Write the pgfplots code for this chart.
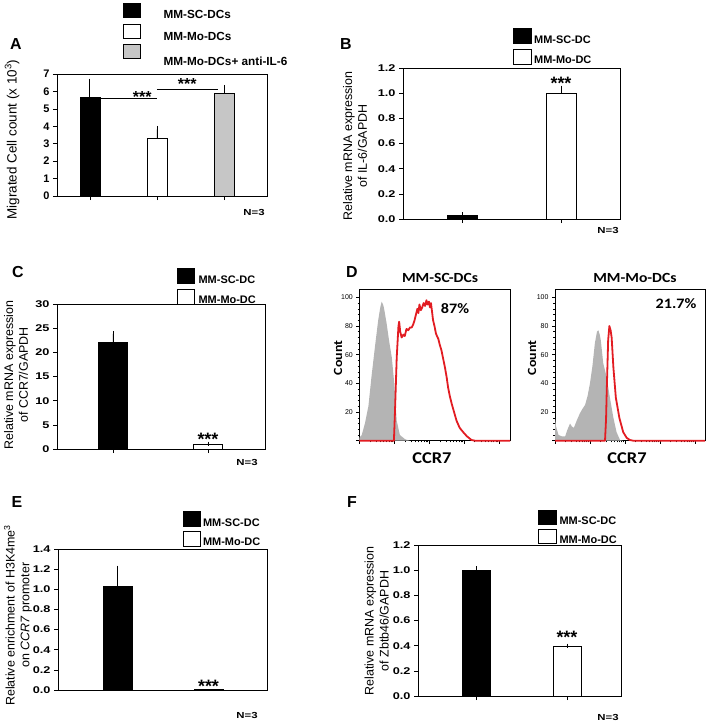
\documentclass[border=0pt]{standalone}
\usepackage{pgfplots}
\pgfplotsset{compat=1.18}
\usepackage{fontspec}
\setmainfont{Liberation Sans}
\newfontfamily\widesans{Liberation Sans}[FakeStretch=1.3]
\newfontfamily\carlito{Carlito}[FakeStretch=1.12]
\definecolor{facsred}{RGB}{226,28,34}
\definecolor{facsgray}{RGB}{180,180,180}

\newcommand{\lab}{\fontsize{12.5}{15}\selectfont}
\newcommand{\tck}{\widesans\bfseries\fontsize{9.8}{11}\selectfont}
\newcommand{\tcka}{\bfseries\fontsize{11}{12}\selectfont}
\newcommand{\leg}{\bfseries\fontsize{11}{13}\selectfont}
\newcommand{\panel}{\bfseries\fontsize{16}{18}\selectfont}
\newcommand{\stars}{\bfseries\fontsize{18}{20}\selectfont}
\newcommand{\nfont}{\widesans\bfseries\fontsize{8.8}{10}\selectfont}

\pgfplotsset{
  barpanel/.style={
    scale only axis, clip=false,
    ybar, ymin=0,
    axis line style={line width=0.8bp},
    tick style={black, line width=0.6bp},
    major tick length=4bp,
    tick align=outside, tick pos=left,
    xticklabels={},
    /pgf/number format/assume math mode=true,
    tick label style={font=\tck},
    ylabel style={font=\lab, align=center, anchor=center},
    legend cell align=left,
    legend style={draw=none, fill=none, inner xsep=0pt, inner ysep=0pt,
      nodes={inner sep=0pt, text depth=0pt}, font=\leg,
      row sep=5bp, column sep=2.5bp, anchor=north west},
  },
  onedec/.style={y tick label style={/pgf/number format/.cd, fixed, fixed zerofill, precision=1}},
  errs/.style={error bars/.cd, y dir=plus, y explicit,
    error bar style={black, line width=0.8bp},
    error mark options={black, line width=0.8bp, mark size=#1}},
  facs/.style={
    scale only axis, clip=false,
    xmin=0, ymin=0, ymax=105.6,
    axis line style={line width=0.6bp},
    tick style={black, line width=0.5bp},
    major tick length=3bp, minor tick length=1.6bp,
    tick align=outside, tick pos=left,
    xtick={0,1,2,3,4}, xticklabels={},
    minor xtick={0.301,0.477,0.602,0.699,0.778,0.845,0.903,0.954,
      1.301,1.477,1.602,1.699,1.778,1.845,1.903,1.954,
      2.301,2.477,2.602,2.699,2.778,2.845,2.903,2.954,
      3.301,3.477,3.602,3.699,3.778,3.845,3.903,3.954},
    ytick={0,20,40,60,80,100}, yticklabels={,20,40,60,80,100},
    minor y tick num=4,
    /pgf/number format/assume math mode=true,
    tick label style={font=\fontsize{7}{8}\selectfont},
    ylabel style={font=\carlito\bfseries\fontsize{12.5}{14}\selectfont, anchor=center},
    xlabel style={font=\carlito\bfseries\fontsize{16.5}{18}\selectfont, anchor=center},
    title style={font=\carlito\bfseries\fontsize{14}{16}\selectfont, anchor=center},
  },
}

\begin{document}
\begin{tikzpicture}
\path[use as bounding box] (0,0) rectangle (709bp,-724bp);

% ---------------- A
\begin{axis}[barpanel, at={(57bp,-196bp)}, anchor=south west,
  width=210bp, height=122bp, xmin=0.51, xmax=3.64, ymax=7,
  xtick={1,2,3}, ytick={0,1,2,3,4,5,6,7}, bar width=20bp,
  tick label style={font=\tcka},
  ylabel={Migrated Cell count (x 10\textsuperscript{3})},
  ylabel style={at={(axis description cs:-0.214,0.463)}, font=\fontsize{13.5}{15}\selectfont},
  legend style={at={(0.3143,1.582)}, row sep=6bp, column sep=23bp,
    font=\bfseries\fontsize{11.8}{13}\selectfont},
  legend image code/.code={\draw[#1] (0bp,-3.5bp) rectangle (17bp,10.5bp);}]
\addplot[fill=black, draw=black, bar shift=0pt, errs=4bp] coordinates {(1,5.65) +- (0,0.85)};
\addplot[fill=white, draw=black, bar shift=0pt, errs=3.5bp] coordinates {(2,3.3) +- (0,0.53)};
\addplot[fill=gray!45, draw=black, bar shift=0pt, errs=3bp] coordinates {(3,5.9) +- (0,0.3)};
\legend{MM-SC-DCs, \raisebox{-3bp}{MM-Mo-DCs}, \raisebox{-10bp}{MM-Mo-DCs+ anti-IL-6}}
\draw[line width=0.8bp] (axis cs:1.04,5.6) -- (axis cs:2.0,5.6);
\draw[line width=0.8bp] (axis cs:2.0,6.12) -- (axis cs:2.91,6.12);
\node[anchor=base, inner sep=0pt, font=\bfseries\fontsize{16}{18}\selectfont] at (axis cs:1.78,5.39) {***};
\node[anchor=base, inner sep=0pt, font=\bfseries\fontsize{16}{18}\selectfont] at (axis cs:2.45,6.13) {***};
\end{axis}
\node[font=\panel] at (16bp,-44bp) {A};
\node[font=\nfont] at (254bp,-212bp) {N=3};

% ---------------- B
\begin{axis}[barpanel, onedec, at={(403bp,-219bp)}, anchor=south west,
  width=217bp, height=151bp, xmin=0.404, xmax=2.596, ymax=1.2,
  xtick={1,2}, ytick={0,0.2,0.4,0.6,0.8,1.0,1.2}, bar width=30bp,
  ylabel={Relative mRNA expression\\of IL-6/GAPDH},
  ylabel style={at={(axis description cs:-0.221,0.483)}},
  legend style={at={(0.507,1.265)}},
  legend image code/.code={\draw[#1] (0bp,-4bp) rectangle (18bp,11bp);}]
\addplot[fill=black, draw=black, bar shift=0pt, errs=2.5bp] coordinates {(1,0.03) +- (0,0.005)};
\addplot[fill=white, draw=black, bar shift=0pt, errs=2.5bp] coordinates {(2,1.0) +- (0,0.04)};
\legend{MM-SC-DC, MM-Mo-DC}
\node[anchor=base, inner sep=0pt, font=\stars] at (axis cs:2,1.031) {***};
\end{axis}
\node[font=\panel] at (346bp,-44bp) {B};
\node[font=\nfont] at (608bp,-230bp) {N=3};

% ---------------- C
\begin{axis}[barpanel, at={(57bp,-449bp)}, anchor=south west,
  width=208bp, height=145bp, xmin=0.411, xmax=2.6, ymax=30,
  xtick={1,2}, ytick={0,5,10,15,20,25,30}, bar width=29bp,
  ylabel={Relative mRNA expression\\of CCR7/GAPDH},
  ylabel style={at={(axis description cs:-0.197,0.51)}},
  legend style={at={(0.577,1.248)}, column sep=4bp},
  legend image code/.code={\draw[#1] (0bp,-4bp) rectangle (17bp,11bp);}]
\addplot[fill=black, draw=black, bar shift=0pt, errs=2.5bp] coordinates {(1,22.1) +- (0,1.7)};
\addplot[fill=white, draw=black, bar shift=0pt, errs=2bp] coordinates {(2,1.0) +- (0,0.1)};
\legend{MM-SC-DC, MM-Mo-DC}
\node[anchor=base, inner sep=0pt, font=\stars] at (axis cs:2,0.77) {***};
\end{axis}
\node[font=\panel] at (18bp,-272bp) {C};
\node[font=\nfont] at (247bp,-462bp) {N=3};

% ---------------- D (flow cytometry histograms, x in log decades)
\begin{axis}[facs, at={(359.3bp,-440.7bp)}, anchor=south west,
  width=150.7bp, height=151.4bp, xmax=4.31,
  title={MM-SC-DCs}, title style={at={(axis description cs:0.536,1.038)}},
  xlabel={CCR7}, xlabel style={at={(axis description cs:0.482,-0.114)}},
  ylabel={Count}, ylabel style={at={(axis description cs:-0.141,0.546)}}]
\addplot[fill=facsgray, draw=none] coordinates {
 (0,2) (0.07,4) (0.16,12) (0.26,24) (0.35,45) (0.45,66) (0.54,84) (0.60,93)
 (0.64,97) (0.68,95) (0.71,92) (0.78,82) (0.85,70) (0.93,58) (1.0,40)
 (1.04,25) (1.07,14) (1.16,4) (1.31,1) (1.45,0)} \closedcycle;
\addplot[facsred, line width=1.8bp, line join=round] coordinates {
 (0,0) (0.99,0) (1.02,20) (1.07,58) (1.12,80) (1.14,83) (1.17,76) (1.21,72)
 (1.26,74) (1.30,73) (1.35,78) (1.40,77) (1.45,79) (1.50,79) (1.54,81)
 (1.58,84) (1.62,88) (1.66,92) (1.69,89) (1.72,95) (1.76,91) (1.80,93)
 (1.84,96) (1.88,94) (1.92,98) (1.95,95) (1.99,97) (2.02,93) (2.05,96)
 (2.08,90) (2.11,84) (2.15,80) (2.19,75) (2.22,73) (2.26,71) (2.30,67)
 (2.35,63) (2.40,57) (2.45,51) (2.50,44) (2.54,37) (2.59,31) (2.64,26)
 (2.71,20) (2.78,14) (2.87,9) (2.97,6) (3.08,3) (3.21,0.5) (3.31,0) (4.31,0)};
\node[font=\carlito\bfseries\fontsize{14.5}{16}\selectfont] at (axis description cs:0.635,0.876) {87\%};
\end{axis}
\begin{axis}[facs, at={(555bp,-440.7bp)}, anchor=south west,
  width=150bp, height=151.4bp, xmax=4.29,
  title={MM-Mo-DCs}, title style={at={(axis description cs:0.533,1.038)}},
  xlabel={CCR7}, xlabel style={at={(axis description cs:0.48,-0.114)}},
  ylabel={Count}, ylabel style={at={(axis description cs:-0.153,0.546)}}]
\addplot[fill=facsgray, draw=none] coordinates {
 (0,16) (0.03,10) (0.1,4) (0.2,3) (0.29,3) (0.36,8) (0.43,12) (0.48,10)
 (0.54,9) (0.62,14) (0.71,19) (0.78,22) (0.86,25) (0.93,31) (1.0,40)
 (1.07,52) (1.14,68) (1.2,76) (1.24,77) (1.28,74) (1.31,70) (1.38,54)
 (1.48,44) (1.57,30) (1.67,16) (1.76,6) (1.86,0.5) (1.95,0)} \closedcycle;
\addplot[facsred, line width=1.8bp, line join=round] coordinates {
 (0,0) (1.43,0) (1.46,15) (1.48,35) (1.52,70) (1.555,80) (1.59,77) (1.62,72)
 (1.67,51) (1.74,30) (1.84,16) (1.95,6) (2.05,2) (2.14,0.5) (2.24,0) (4.29,0)};
\node[font=\carlito\bfseries\fontsize{14.5}{16}\selectfont] at (axis description cs:0.807,0.906) {21.7\%};
\end{axis}
\node[font=\panel] at (352bp,-272bp) {D};

% ---------------- E
\begin{axis}[barpanel, onedec, at={(58bp,-690bp)}, anchor=south west,
  width=209bp, height=141bp, xmin=0.346, xmax=2.643, ymax=1.4,
  xtick=\empty, ytick={0,0.2,0.4,0.6,0.8,1.0,1.2,1.4}, bar width=29bp,
  ylabel={Relative enrichment of H3K4me\textsuperscript{3}\\on \textit{CCR7} promoter},
  ylabel style={at={(axis description cs:-0.191,0.53)}},
  legend style={at={(0.598,1.27)}, row sep=4bp},
  legend image code/.code={\draw[#1] (0bp,-4bp) rectangle (17bp,11bp);}]
\addplot[fill=black, draw=black, bar shift=0pt, errs=2.5bp] coordinates {(1,1.03) +- (0,0.18)};
\addplot[fill=white, draw=black, bar shift=0pt] coordinates {(2,0.01)};
\legend{MM-SC-DC, MM-Mo-DC}
\node[anchor=base, inner sep=0pt, font=\stars] at (axis cs:2,-0.02) {***};
\end{axis}
\node[font=\panel] at (17bp,-502bp) {E};
\node[font=\nfont] at (247bp,-715bp) {N=3};

% ---------------- F
\begin{axis}[barpanel, onedec, at={(418bp,-696bp)}, anchor=south west,
  width=203bp, height=151bp, xmin=0.354, xmax=2.597, ymax=1.2,
  xtick={1,2}, ytick={0,0.2,0.4,0.6,0.8,1.0,1.2}, bar width=28bp,
  ylabel={Relative mRNA expression\\of Zbtb46/GAPDH},
  ylabel style={at={(axis description cs:-0.204,0.497)}},
  legend style={at={(0.591,1.232)}, row sep=4bp, column sep=3bp},
  legend image code/.code={\draw[#1] (0bp,-3.5bp) rectangle (18bp,10.5bp);}]
\addplot[fill=black, draw=black, bar shift=0pt, errs=3bp] coordinates {(1,1.0) +- (0,0.008)};
\addplot[fill=white, draw=black, bar shift=0pt, errs=2bp] coordinates {(2,0.395) +- (0,0.005)};
\legend{MM-SC-DC, MM-Mo-DC}
\node[anchor=base, inner sep=0pt, font=\stars] at (axis cs:2,0.417) {***};
\end{axis}
\node[font=\panel] at (352bp,-502bp) {F};
\node[font=\nfont] at (608bp,-717bp) {N=3};
\end{tikzpicture}
\end{document}
